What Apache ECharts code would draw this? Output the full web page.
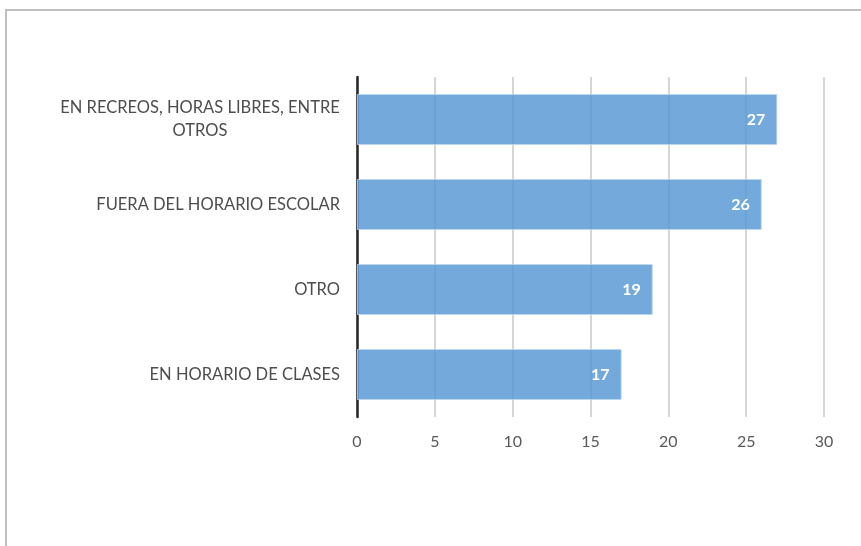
<!DOCTYPE html>
<html>
<head>
<meta charset="utf-8">
<script src="https://cdn.jsdelivr.net/npm/echarts@6/dist/echarts.min.js"></script>
<style>
  html, body { margin: 0; padding: 0; background: #fff; }
  #chart { width: 861px; height: 546px; }
</style>
</head>
<body>
<div id="chart"></div>
<script>
const categories = [
  'EN RECREOS, HORAS LIBRES, ENTRE\nOTROS',
  'FUERA DEL HORARIO ESCOLAR',
  'OTRO',
  'EN HORARIO DE CLASES'
]
const values = [27, 26, 19, 17]
const xTicks = { min: 0, max: 30, interval: 5 }

const chart = echarts.init(document.getElementById('chart'))

const option = {
  animation: false,
  textStyle: { fontFamily: 'Lato, "Liberation Sans", sans-serif' },
  graphic: [
    {
      type: 'rect',
      shape: { x: 6, y: 10, width: 900, height: 600 },
      style: { fill: 'none', stroke: '#bfbfbf', lineWidth: 2 },
      silent: true
    }
  ],
  grid: {
    left: 357,
    right: 37,
    top: 77,
    bottom: 129
  },
  xAxis: {
    type: 'value',
    min: xTicks.min,
    max: xTicks.max,
    interval: xTicks.interval,
    axisLine: { show: false },
    axisTick: { show: false },
    axisLabel: { color: '#595959', fontSize: 16, margin: 17 },
    splitLine: { lineStyle: { color: '#c8c8c8', width: 1.5 } }
  },
  yAxis: {
    type: 'category',
    inverse: true,
    data: categories,
    axisLine: { lineStyle: { color: '#262626', width: 2.5 } },
    axisTick: { show: false },
    axisLabel: {
      color: '#4d4d4d',
      fontSize: 16.5,
      margin: 17,
      lineHeight: 23,
      formatter: (val) => {
        if (val.indexOf('\n') < 0) return val
        return val.split('\n').map(s => '{c|' + s + '}').join('\n')
      },
      rich: {
        c: { width: 280, align: 'center', fontSize: 16.5, color: '#4d4d4d', lineHeight: 23 }
      }
    }
  },
  series: [
    {
      type: 'bar',
      data: values,
      barCategoryGap: '40%',
      itemStyle: {
        color: 'rgba(91,155,213,0.85)',
        borderColor: 'rgba(189,215,238,0.8)',
        borderWidth: 1
      },
      label: {
        show: true,
        position: 'insideRight',
        distance: 12,
        color: '#fff',
        fontWeight: 'bold',
        fontSize: 16
      }
    }
  ]
}

chart.setOption(option)
</script>
</body>
</html>
